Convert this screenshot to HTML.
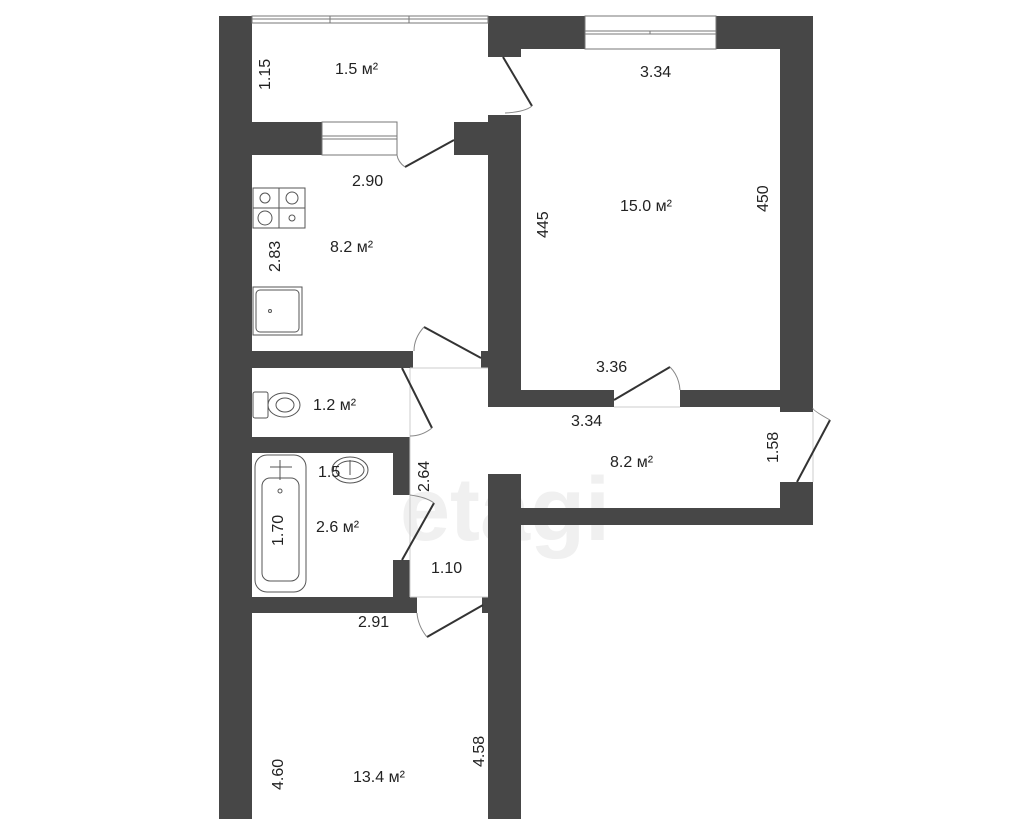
<!DOCTYPE html>
<html><head><meta charset="utf-8"><style>
html,body{margin:0;padding:0;background:#fff;}
svg{display:block}
text{font-family:"Liberation Sans",sans-serif;font-size:16px;fill:#222;}
</style></head><body>
<svg width="1024" height="819" viewBox="0 0 1024 819" xmlns="http://www.w3.org/2000/svg">
<rect width="1024" height="819" fill="#fff"/>
<!-- watermark -->
<text x="400" y="540" style="font-size:90px;fill:#f0f0f0;font-weight:bold">etagi</text>
<g fill="#474747">
<!-- left outer wall -->
<rect x="219" y="16" width="33" height="803"/>
<!-- top block between balcony and bedroom -->
<rect x="488" y="16" width="33" height="41"/>
<!-- bedroom top wall -->
<rect x="521" y="16" width="64" height="33"/>
<rect x="716" y="16" width="97" height="33"/>
<!-- right wall -->
<rect x="780" y="16" width="33" height="396"/>
<rect x="780" y="482" width="33" height="43"/>
<!-- corridor bottom wall -->
<rect x="521" y="508" width="292" height="17"/>
<!-- balcony/kitchen wall -->
<rect x="252" y="122" width="70" height="33"/>
<rect x="454" y="122" width="34" height="33"/>
<!-- bedroom left wall -->
<rect x="488" y="115" width="33" height="292"/>
<!-- bedroom bottom wall -->
<rect x="521" y="390" width="93" height="17"/>
<rect x="680" y="390" width="133" height="17"/>
<!-- kitchen bottom wall -->
<rect x="252" y="351" width="161" height="17"/>
<rect x="481" y="351" width="7" height="17"/>
<!-- toilet bottom wall -->
<rect x="252" y="437" width="158" height="16"/>
<rect x="393" y="437" width="17" height="58"/>
<rect x="393" y="560" width="17" height="37"/>
<!-- bath bottom wall -->
<rect x="252" y="597" width="165" height="16"/>
<rect x="482" y="597" width="6" height="16"/>
<!-- corridor right lower wall -->
<rect x="488" y="474" width="33" height="345"/>
</g>
<!-- windows -->
<g fill="none" stroke="#777" stroke-width="1">
<rect x="252" y="16" width="236" height="7"/>
<line x1="252" y1="19" x2="488" y2="19"/>
<line x1="330" y1="16" x2="330" y2="23"/><line x1="409" y1="16" x2="409" y2="23"/>
<rect x="322" y="122" width="75" height="33"/>
<line x1="322" y1="136" x2="397" y2="136"/><line x1="322" y1="139" x2="397" y2="139"/>
<rect x="585" y="16" width="131" height="33"/>
<line x1="585" y1="31" x2="716" y2="31"/><line x1="585" y1="34" x2="716" y2="34"/>
<line x1="650" y1="31" x2="650" y2="34"/>
<!-- corridor thin boundaries -->
<line x1="410" y1="368" x2="410" y2="597" stroke="#ccc"/>
<line x1="410" y1="368" x2="488" y2="368" stroke="#ccc"/>
<line x1="410" y1="597" x2="488" y2="597" stroke="#ccc"/>
<line x1="614" y1="407" x2="680" y2="407" stroke="#ccc"/>
<line x1="813" y1="412" x2="813" y2="482" stroke="#ccc"/>
</g>
<!-- doors -->
<g fill="none" stroke="#333" stroke-width="2">
<line x1="503" y1="57" x2="532" y2="106"/>
<line x1="454" y1="140" x2="405" y2="167"/>
<line x1="481" y1="358" x2="424" y2="327"/>
<line x1="402" y1="368" x2="432" y2="428"/>
<line x1="402" y1="560" x2="434" y2="503"/>
<line x1="483" y1="605" x2="427" y2="637"/>
<line x1="614" y1="400" x2="670" y2="367"/>
<line x1="797" y1="482" x2="830" y2="420"/>
</g>
<g fill="none" stroke="#888" stroke-width="1">
<path d="M532 106 Q525 112 505 113"/>
<path d="M405 167 Q398 162 397 155"/>
<path d="M424 327 Q414 338 414 351"/>
<path d="M432 428 Q422 436 410 436"/>
<path d="M434 503 Q426 497 410 495"/>
<path d="M427 637 Q418 626 417 613"/>
<path d="M670 367 Q679 376 680 390"/>
<path d="M830 420 Q812 410 813 408"/>
</g>
<!-- fixtures -->
<g fill="none" stroke="#555" stroke-width="1">
<rect x="253" y="188" width="52" height="40"/>
<line x1="279" y1="188" x2="279" y2="228"/><line x1="253" y1="208" x2="305" y2="208"/>
<circle cx="265" cy="198" r="5"/><circle cx="292" cy="198" r="6"/>
<circle cx="265" cy="218" r="7"/><circle cx="292" cy="218" r="3"/>
<rect x="253" y="287" width="49" height="48"/>
<rect x="256" y="290" width="43" height="42" rx="4"/>
<circle cx="270" cy="311" r="1.5"/>
<rect x="253" y="392" width="15" height="26" rx="2"/>
<ellipse cx="284" cy="405" rx="16" ry="12"/><ellipse cx="285" cy="405" rx="9" ry="7"/>
<rect x="255" y="455" width="51" height="137" rx="12"/>
<rect x="262" y="478" width="37" height="103" rx="8"/>
<line x1="280" y1="460" x2="280" y2="480"/><line x1="270" y1="467" x2="292" y2="467"/>
<circle cx="280" cy="491" r="2"/>
<ellipse cx="350" cy="470" rx="18" ry="13"/><ellipse cx="350" cy="470" rx="14" ry="9"/>
<line x1="350" y1="460" x2="350" y2="475"/>
</g>
<!-- labels -->
<text x="335" y="74">1.5 м²</text>
<text x="270" y="90" transform="rotate(-90 270 90)" text-anchor="start" dx="0">1.15</text>
<text x="352" y="186">2.90</text>
<text x="330" y="252">8.2 м²</text>
<text x="280" y="272" transform="rotate(-90 280 272)">2.83</text>
<text x="313" y="410">1.2 м²</text>
<text x="318" y="477">1.5</text>
<text x="429" y="492" transform="rotate(-90 429 492)">2.64</text>
<text x="316" y="532">2.6 м²</text>
<text x="283" y="546" transform="rotate(-90 283 546)">1.70</text>
<text x="431" y="573">1.10</text>
<text x="358" y="627">2.91</text>
<text x="283" y="790" transform="rotate(-90 283 790)">4.60</text>
<text x="353" y="782">13.4 м²</text>
<text x="484" y="767" transform="rotate(-90 484 767)">4.58</text>
<text x="640" y="77">3.34</text>
<text x="620" y="211">15.0 м²</text>
<text x="548" y="238" transform="rotate(-90 548 238)">445</text>
<text x="768" y="212" transform="rotate(-90 768 212)">450</text>
<text x="596" y="372">3.36</text>
<text x="571" y="426">3.34</text>
<text x="610" y="467">8.2 м²</text>
<text x="778" y="463" transform="rotate(-90 778 463)">1.58</text>
</svg>
</body></html>
